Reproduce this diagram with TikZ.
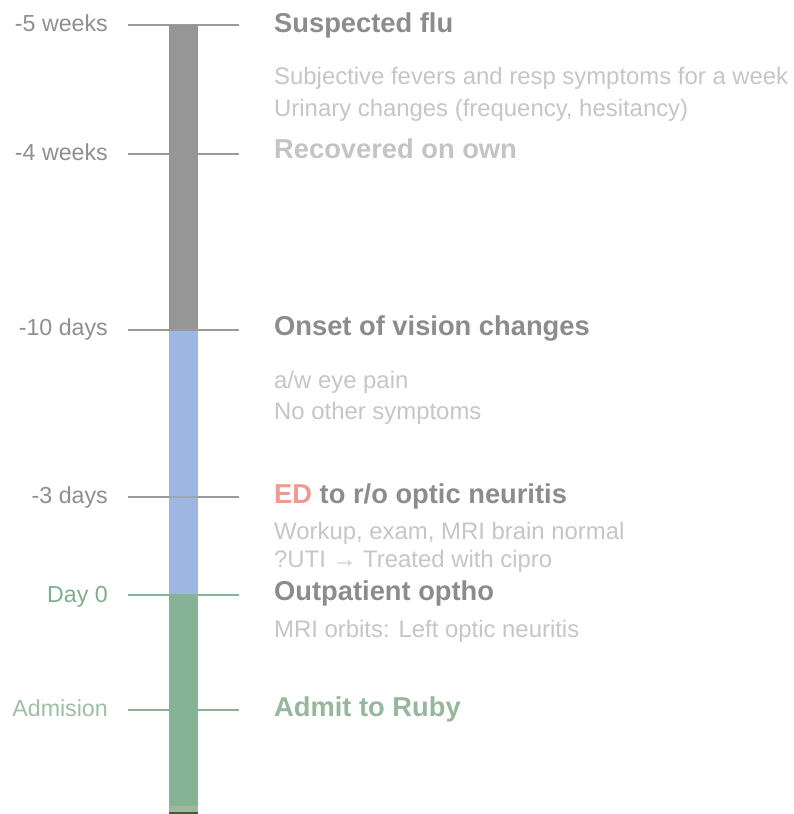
\documentclass[tikz,border=0pt]{standalone}
\usepackage{fontspec}
\setmainfont{Liberation Sans}
\definecolor{bargrey}{HTML}{969696}
\definecolor{barblue}{HTML}{9DB7E2}
\definecolor{bargreen}{HTML}{86B296}
\definecolor{barstrip}{HTML}{9FB79B}
\definecolor{bardark}{HTML}{3E5E44}
\definecolor{tickgrey}{HTML}{9A9A9A}
\definecolor{tickgreen}{HTML}{86B296}
\definecolor{headgrey}{HTML}{8C8C8C}
\definecolor{headlight}{HTML}{C4C4C4}
\definecolor{bodygrey}{HTML}{C6C6C6}
\definecolor{lblgrey}{HTML}{8F8F8F}
\definecolor{daygreen}{HTML}{7FAE8F}
\definecolor{admgreen}{HTML}{9DBFA4}
\definecolor{rubygreen}{HTML}{97B79D}
\definecolor{edred}{HTML}{EC9A92}
\tikzset{
  lbl/.style={inner sep=0pt, anchor=base east, font=\fontsize{23.2}{27}\selectfont, text=lblgrey},
  head/.style={inner sep=0pt, anchor=base west, font=\fontsize{27.3}{32}\selectfont\bfseries, text=headgrey},
  body/.style={inner sep=0pt, anchor=base west, font=\fontsize{23.9}{28}\selectfont, text=bodygrey},
  tick/.style={draw=tickgrey, line width=2pt},
  gtick/.style={draw=tickgreen, line width=2pt}
}
\begin{document}
\begin{tikzpicture}[x=1pt,y=-1pt]
\useasboundingbox (0,0) rectangle (794,814);
\fill[white] (0,0) rectangle (794,814);
% tick coordinates
\foreach \n/\y in {a/25,b/154,c/330,d/497,e/595,f/710}{
  \coordinate (\n L) at (128,\y);
  \coordinate (\n R) at (239,\y);
}
\draw[tick] (aL) -- (aR);
\draw[tick] (bL) -- (bR);
\draw[tick] (cL) -- (cR);
\draw[tick] (dL) -- (dR);
\draw[gtick] (eL) -- (eR);
\draw[gtick] (fL) -- (fR);
% bar
\fill[bargrey] (169,25) rectangle (198,330);
\fill[barblue] (169,330) rectangle (198,595);
\fill[bargreen] (169,595) rectangle (198,806);
\fill[barstrip] (169,806) rectangle (198,812);
\fill[bardark] (169,812) rectangle (198,814);
\draw[draw=tickgrey, line width=2pt, opacity=0.6] (169,497) -- (198,497);
\draw[draw=tickgrey, line width=2pt] (169,330) -- (198,330);
\draw[draw=tickgreen, line width=2pt] (169,595) -- (198,595);
% left labels
\node[lbl] (l1) at (108,31) {-5 weeks};
\node[lbl] (l2) at (108,160) {-4 weeks};
\node[lbl] (l3) at (108,335) {-10 days};
\node[lbl] (l4) at (108,503) {-3 days};
\node[lbl, text=daygreen] (l5) at (108,602) {Day 0};
\node[lbl, text=admgreen] (l6) at (108,716) {Admision};
% right texts
\node[head] (h1) at (274,32) {Suspected flu};
\node[body] (b1) at (274,84) {Subjective fevers and resp symptoms for a week};
\node[body] (b2) at (274,116) {Urinary changes (frequency, hesitancy)};
\node[head, text=headlight] (h2) at (274,158) {Recovered on own};
\node[head] (h3) at (274,335) {Onset of vision changes};
\node[body] (b3) at (274,388) {a/w eye pain};
\node[body] (b4) at (274,419) {No other symptoms};
\node[head] (h4) at (274,503) {\textcolor{edred}{ED} to r/o optic neuritis};
\node[body] (b5) at (274,539) {Workup, exam, MRI brain normal};
\node[body] (b6) at (274,567) {?UTI → Treated with cipro};
\node[head] (h5) at (274,600) {Outpatient optho};
\node[body] (b7) at (274,637) {MRI orbits: Left optic neuritis};
\node[head, text=rubygreen] (h6) at (274,716) {Admit to Ruby};
\end{tikzpicture}
\end{document}
